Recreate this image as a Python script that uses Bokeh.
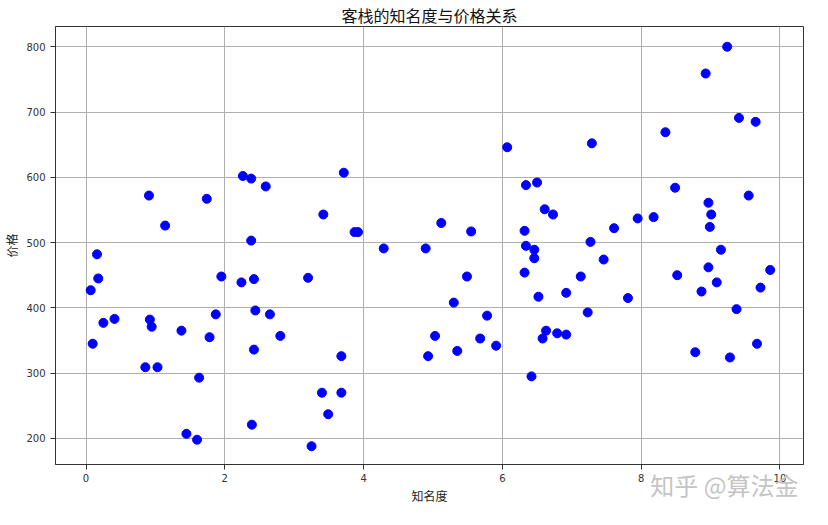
from bokeh.plotting import figure
from bokeh.models import Range1d, FixedTicker, LinearAxis, ColumnDataSource
from bokeh.embed import file_html
from bokeh.resources import INLINE

popularity = [0.067, 0.096, 0.158, 0.176, 0.25, 0.41, 0.855, 0.907, 0.92, 0.946,
              1.03, 1.14, 1.375, 1.447, 1.60, 1.63, 1.74, 1.78, 1.87, 1.95,
              2.24, 2.26, 2.38, 2.38, 2.39, 2.42, 2.42, 2.44, 2.59, 2.65,
              2.80, 3.20, 3.25, 3.40, 3.42, 3.49, 3.68, 3.68, 3.715, 3.87,
              3.92, 4.29, 4.895, 4.93, 5.03, 5.12, 5.30, 5.35, 5.49, 5.55,
              5.68, 5.78, 5.91, 6.07, 6.32, 6.32, 6.34, 6.34, 6.42, 6.46,
              6.46, 6.50, 6.52, 6.58, 6.61, 6.63, 6.73, 6.79, 6.92, 6.92,
              7.13, 7.23, 7.27, 7.29, 7.46, 7.61, 7.81, 7.95, 8.18, 8.35,
              8.49, 8.52, 8.78, 8.87, 8.93, 8.97, 8.97, 8.99, 9.01, 9.09,
              9.15, 9.24, 9.28, 9.375, 9.41, 9.55, 9.65, 9.67, 9.72, 9.86]
price = [427, 345, 482, 445, 377, 383, 309, 572, 382, 371,
         309, 526, 365, 207, 198, 293, 567, 355, 390, 448,
         439, 602, 598, 503, 221, 444, 336, 396, 586, 390,
         357, 446, 188, 270, 543, 237, 326, 270, 607, 516,
         516, 491, 491, 326, 357, 530, 408, 334, 448, 517,
         353, 388, 342, 646, 518, 454, 588, 495, 295, 489,
         476, 592, 417, 353, 551, 365, 543, 361, 359, 423,
         448, 393, 501, 652, 474, 522, 415, 537, 539, 669,
         584, 450, 332, 425, 759, 561, 462, 524, 543, 439,
         489, 800, 324, 398, 691, 572, 685, 345, 431, 458]

x_ticks = [0, 2, 4, 6, 8, 10]
y_ticks = [200, 300, 400, 500, 600, 700, 800]

title_text = "客栈的知名度与价格关系"
x_label = "知名度"
y_label = "价格"
watermark = "知乎 @算法金"
watermark_at = 9.2

CJK = "Noto Sans CJK SC"
NUM = "DejaVu Sans"

p = figure(width=812, height=509, output_backend="svg", toolbar_location=None,
           x_range=Range1d(-0.44, 10.34), y_range=Range1d(160, 831),
           min_border_left=50, min_border_right=9, min_border_top=24, min_border_bottom=45,
           title=title_text)

p.title.align = "center"
p.title.text_font = CJK
p.title.text_font_size = "16px"
p.title.text_font_style = "normal"
p.title.text_color = "#111111"
p.title.offset = 0
p.title.standoff = 0

source = ColumnDataSource(data=dict(x=popularity, y=price))
p.scatter("x", "y", source=source, size=9, fill_color="#0000ff", line_color="#0000ff")

for ax in (p.xaxis[0], p.yaxis[0]):
    ax.axis_line_color = "#333333"
    ax.axis_line_width = 1
    ax.major_tick_line_color = "#333333"
    ax.major_tick_out = 5
    ax.major_tick_in = 0
    ax.minor_tick_line_color = None
    ax.major_label_text_font = NUM
    ax.major_label_text_font_size = "10px"
    ax.major_label_text_color = "#333333"
    ax.axis_label_text_font = CJK
    ax.axis_label_text_font_size = "12px"
    ax.axis_label_text_font_style = "normal"
    ax.axis_label_text_color = "#222222"

p.xaxis[0].ticker = FixedTicker(ticks=x_ticks)
p.yaxis[0].ticker = FixedTicker(ticks=y_ticks)
p.xaxis[0].axis_label = x_label
p.yaxis[0].axis_label = y_label
p.xaxis[0].major_label_standoff = 4
p.yaxis[0].major_label_standoff = 5
p.xaxis[0].axis_label_standoff = 2
p.yaxis[0].axis_label_standoff = 3

p.xgrid.ticker = FixedTicker(ticks=x_ticks)
p.ygrid.ticker = FixedTicker(ticks=y_ticks)
p.grid.grid_line_color = "#b0b0b0"
p.grid.grid_line_width = 1

p.outline_line_color = "#333333"
p.outline_line_width = 1
p.background_fill_color = "white"
p.border_fill_color = "white"

wm = LinearAxis(ticker=FixedTicker(ticks=[watermark_at]),
                major_label_overrides={watermark_at: watermark})
wm.axis_line_color = None
wm.major_tick_line_color = None
wm.minor_tick_line_color = None
wm.major_tick_out = 0
wm.major_tick_in = 0
wm.major_label_standoff = -40
wm.major_label_text_font = CJK
wm.major_label_text_font_size = "24px"
wm.major_label_text_color = "#c4c4c4"
p.add_layout(wm, "below")

open("out.html", "w").write(file_html(p, INLINE))
